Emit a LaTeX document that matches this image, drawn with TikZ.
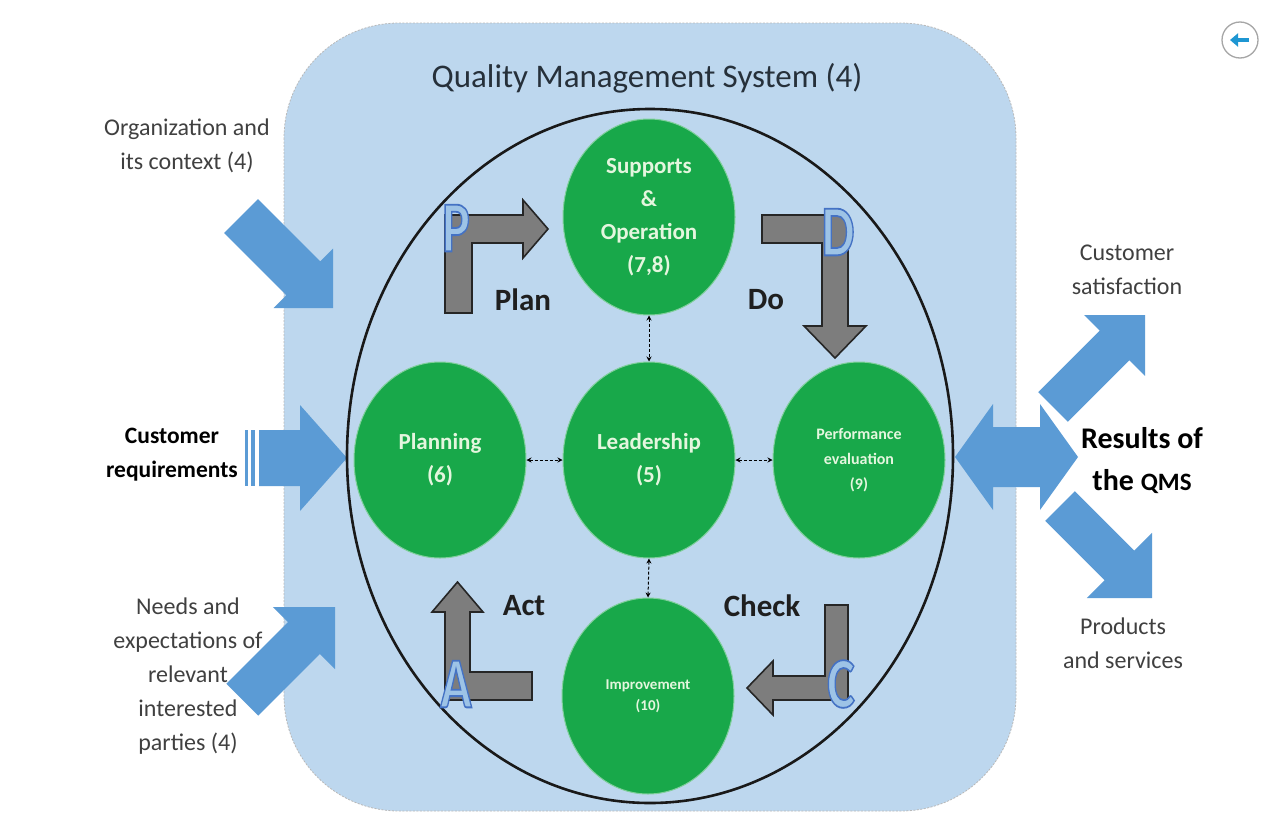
\documentclass[tikz,border=0pt]{standalone}
\usepackage{fontspec}
\setmainfont{Carlito}
\usetikzlibrary{shapes.geometric,arrows.meta}

\definecolor{qmsbg}{HTML}{BDD7EE}
\definecolor{qmsblue}{HTML}{5B9BD5}
\definecolor{qmsgreen}{RGB}{24,168,74}
\definecolor{qmstext}{RGB}{228,246,222}
\definecolor{pdcagray}{RGB}{125,125,125}
\definecolor{letterfill}{HTML}{9DC3E6}
\definecolor{labelgray}{RGB}{64,64,64}
\definecolor{titleink}{RGB}{38,48,58}
\definecolor{backblue}{RGB}{30,150,210}

% block arrow: tip position, direction angle, total length, head length, head half-width, shaft half-width
\newcommand\blockarrow[6]{%
  \fill[qmsblue, shift={(#1)}, rotate=#2]
    (0,0) -- (-#4,#5) -- (-#4,#6) -- (-#3,#6) -- (-#3,-#6) -- (-#4,-#6) -- (-#4,-#5) -- cycle;}
% PDCA letter: light fill, stroked in a darker blue (fill-and-stroke text mode)
\newcommand\pdcaletter[1]{\scalebox{0.72}[1]{\textcolor{letterfill}{%
  \special{pdf:literal direct 0.267 0.447 0.769 RG 2 Tr 1.8 w}#1%
  \special{pdf:literal direct 0 Tr}}}}

\tikzset{
  stage/.style={ellipse, fill=qmsgreen, draw=qmsgreen!55!white, line width=1pt,
    minimum width=172pt, minimum height=196pt, inner sep=0pt, align=center,
    text=qmstext, font=\bfseries\fontsize{23}{33}\selectfont},
  link/.style={densely dashed, line width=1pt,
    {Stealth[length=5pt,width=5pt]}-{Stealth[length=5pt,width=5pt]}},
  pdca/.style={fill=pdcagray, draw=black!85, line width=1.6pt, line join=miter},
  pdcalabel/.style={font=\bfseries\fontsize{31}{31}\selectfont, text=black!88},
  letter/.style={font=\bfseries\fontsize{72}{72}\selectfont, inner sep=0pt},
  side/.style={align=center, text=labelgray, font=\fontsize{24}{34}\selectfont},
  sidebold/.style={align=center, text=black, font=\bfseries\fontsize{23.5}{34}\selectfont}
}

\begin{document}
\begin{tikzpicture}[x=1pt,y=-1pt]
\useasboundingbox (0,0) rectangle (1268,814);
\fill[white] (0,0) rectangle (1268,814);

% system boundary
\draw[draw=gray!55, dash pattern=on 2pt off 1.5pt, line width=0.8pt, fill=qmsbg,
      rounded corners=115pt] (284,23) rectangle (1016,811);
\node[font=\fontsize{33}{33}\selectfont, text=titleink] (title) at (647,78)
  {Quality Management System (4)};

% inputs
\blockarrow{333,308}{-45}{130}{42}{42}{24}
\blockarrow{347,458}{0}{88}{47}{53}{28}
\fill[qmsblue] (245,430) rectangle (248,486);
\fill[qmsblue] (251,430) rectangle (255,486);
\blockarrow{335,607}{45}{131}{44}{44}{22.5}

% outputs
\fill[qmsblue] (955,457) -- (993,404) -- (993,427) -- (1040,427) -- (1040,404)
  -- (1078,457) -- (1040,510) -- (1040,487) -- (993,487) -- (993,510) -- cycle;
\blockarrow{1145,315}{45}{130}{43}{43}{21}
\blockarrow{1152,598}{-45}{130}{46}{46}{21}

% PDCA ring
\node[ellipse, draw=black!90, line width=2.6pt, minimum width=606pt,
      minimum height=694pt, inner sep=0pt] (ring) at (650,456) {};

% process stages
\node[stage] (sup) at (649,217) {Supports\\\&\\Operation\\(7,8)};
\node[stage] (plan) at (440,460) {Planning\\(6)};
\node[stage] (lead) at (649,460) {Leadership\\(5)};
\node[stage, font=\bfseries\fontsize{16}{25}\selectfont] (perf) at (859,460)
  {Performance\\evaluation\\(9)};
\node[stage, font=\bfseries\fontsize{15}{21}\selectfont] (imp) at (648,696)
  {Improvement\\(10)};

\draw[link] (sup.south) -- (lead.north);
\draw[link] (lead.south) -- (imp.north);
\draw[link] (plan.east) -- (lead.west);
\draw[link] (lead.east) -- (perf.west);

% cycle arrows
\draw[pdca] (445,313) -- (445,215) -- (523,215) -- (523,200) -- (548,229)
  -- (523,258) -- (523,243) -- (472,243) -- (472,313) -- cycle;
\draw[pdca] (762,215) -- (848,215) -- (848,326) -- (866,326) -- (835,358)
  -- (804,326) -- (822,326) -- (822,243) -- (762,243) -- cycle;
\draw[pdca] (825,605) -- (848,605) -- (848,700) -- (773,700) -- (773,715)
  -- (747,688) -- (773,661) -- (773,676) -- (825,676) -- cycle;
\draw[pdca] (532,672) -- (532,700) -- (445,700) -- (445,612) -- (432,612)
  -- (457.5,582) -- (483,612) -- (470,612) -- (470,672) -- cycle;

\node[letter] (lp) at (456,228) {\pdcaletter{P}};
\node[letter] (ld) at (838,232) {\pdcaletter{D}};
\node[letter] (lc) at (841,684) {\pdcaletter{C}};
\node[letter] (la) at (456,684) {\pdcaletter{A}};

\node[pdcalabel] (tplan) at (523,300) {Plan};
\node[pdcalabel] (tdo) at (766,300) {Do};
\node[pdcalabel] (tact) at (524,606) {Act};
\node[pdcalabel] (tcheck) at (762,606) {Check};

% side texts
\node[side] (org) at (187,146) {Organization and\\its context (4)};
\node[sidebold] (creq) at (172,455) {Customer\\requirements};
\node[side] (needs) at (188,676) {Needs and\\expectations of\\relevant\\interested\\parties (4)};
\node[side] (csat) at (1127,270) {Customer\\satisfaction};
\node[align=center, text=black, font=\bfseries\fontsize{30}{42}\selectfont] (res) at (1142,461)
  {Results of\\the {\fontsize{25}{25}\selectfont QMS}};
\node[side] (prod) at (1123,643) {Products\\and services};

% back button
\node[circle, draw=gray!70, line width=1.3pt, minimum size=36pt, inner sep=0pt] (back) at (1240,40) {};
\draw[line width=3.2pt, backblue, -{Triangle[length=8pt,width=13pt]}]
  ([xshift=9pt]back.center) -- ([xshift=-10pt]back.center);
\end{tikzpicture}
\end{document}
